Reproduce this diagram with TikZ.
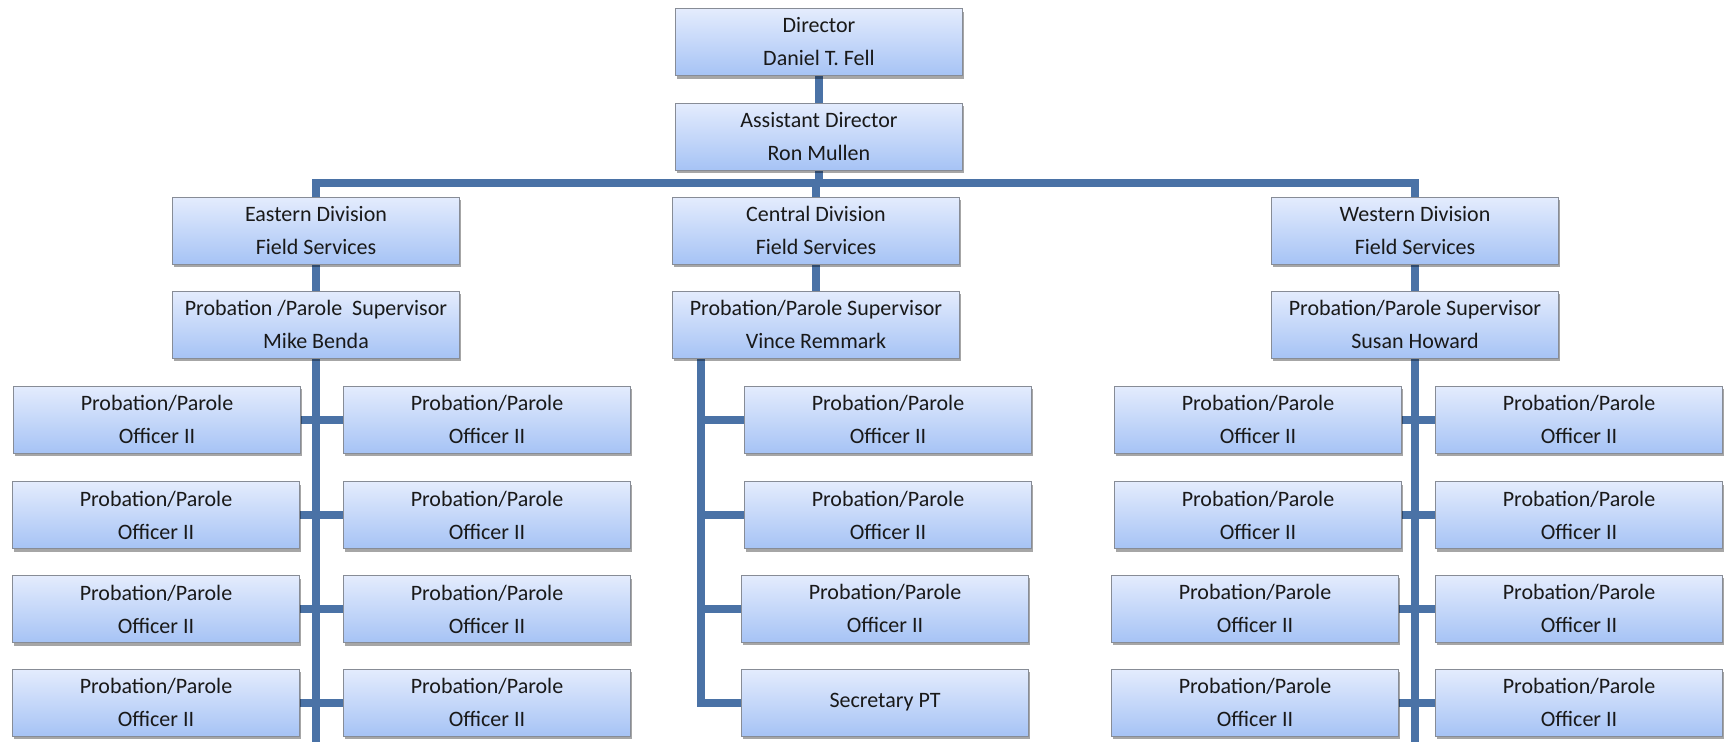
\documentclass[tikz,border=0pt]{standalone}
\usepackage{fontspec}
\setmainfont{Carlito}
\usetikzlibrary{shadows,backgrounds}
\definecolor{linec}{RGB}{74,114,166}
\definecolor{boxtop}{RGB}{228,236,253}
\definecolor{boxbot}{RGB}{166,195,245}
\definecolor{boxedge}{RGB}{135,140,150}
\tikzset{
  orgbox/.style={rectangle, draw=boxedge, line width=1pt, top color=boxtop, bottom color=boxbot,
    minimum width=287pt, minimum height=67pt, align=center, inner sep=0pt,
    font=\fontsize{22}{33}\selectfont, text=black!90,
    drop shadow={shadow xshift=1.5pt, shadow yshift=-3pt, opacity=0.35, fill=black}},
  conn/.style={draw=linec, line width=8pt}
}
\begin{document}
\begin{tikzpicture}[x=1pt,y=-1pt]
\useasboundingbox (0,0) rectangle (1724,742);
% top
\node[orgbox] (dir) at (819,42) {Director\\Daniel T. Fell};
\node[orgbox] (asst) at (819,136.5) {Assistant Director\\Ron Mullen};
% divisions
\node[orgbox] (ediv) at (316,230.5) {Eastern Division\\Field Services};
\node[orgbox] (cdiv) at (816,230.5) {Central Division\\Field Services};
\node[orgbox] (wdiv) at (1415,230.5) {Western Division\\Field Services};
% supervisors
\node[orgbox] (esup) at (316,324.5) {Probation /Parole\ \ Supervisor\\Mike Benda};
\node[orgbox] (csup) at (816,324.5) {Probation/Parole Supervisor\\Vince Remmark};
\node[orgbox] (wsup) at (1415,324.5) {Probation/Parole Supervisor\\Susan Howard};
% eastern officers
\node[orgbox] (e1L) at (157,419.5) {Probation/Parole\\Officer II};
\node[orgbox] (e1R) at (487,419.5) {Probation/Parole\\Officer II};
\node[orgbox] (e2L) at (156,515) {Probation/Parole\\Officer II};
\node[orgbox] (e2R) at (487,515) {Probation/Parole\\Officer II};
\node[orgbox] (e3L) at (156,609) {Probation/Parole\\Officer II};
\node[orgbox] (e3R) at (487,609) {Probation/Parole\\Officer II};
\node[orgbox] (e4L) at (156,702.5) {Probation/Parole\\Officer II};
\node[orgbox] (e4R) at (487,702.5) {Probation/Parole\\Officer II};
% central officers
\node[orgbox] (c1) at (888,419.5) {Probation/Parole\\Officer II};
\node[orgbox] (c2) at (888,515) {Probation/Parole\\Officer II};
\node[orgbox] (c3) at (885,608.5) {Probation/Parole\\Officer II};
\node[orgbox] (sec) at (885,702.5) {Secretary PT};
% western officers
\node[orgbox] (w1L) at (1258,419.5) {Probation/Parole\\Officer II};
\node[orgbox] (w1R) at (1579,419.5) {Probation/Parole\\Officer II};
\node[orgbox] (w2L) at (1258,515) {Probation/Parole\\Officer II};
\node[orgbox] (w2R) at (1579,515) {Probation/Parole\\Officer II};
\node[orgbox] (w3L) at (1255,608.5) {Probation/Parole\\Officer II};
\node[orgbox] (w3R) at (1579,608.5) {Probation/Parole\\Officer II};
\node[orgbox] (w4L) at (1255,702.5) {Probation/Parole\\Officer II};
\node[orgbox] (w4R) at (1579,702.5) {Probation/Parole\\Officer II};
\coordinate (bus) at (0,183);
\coordinate (bottom) at (0,742);
\coordinate (ct) at (701,358);
\begin{pgfonlayer}{background}
\draw[conn] (dir.south) -- (asst.north);
\draw[conn] (asst.south) -- (asst.south |- bus);
\draw[conn] (ediv.north) |- (wdiv.north |- bus) -- (wdiv.north);
\draw[conn] (cdiv.north) -- (cdiv.north |- bus);
\draw[conn] (ediv.south) -- (esup.north);
\draw[conn] (cdiv.south) -- (csup.north);
\draw[conn] (wdiv.south) -- (wsup.north);
% eastern tree
\draw[conn] (esup.south) -- (esup.south |- bottom);
\draw[conn] (e1L.east) -- (e1R.west);
\draw[conn] (e2L.east) -- (e2R.west);
\draw[conn] (e3L.east) -- (e3R.west);
\draw[conn] (e4L.east) -- (e4R.west);
% central tree
\draw[conn] (ct) |- (sec.west);
\draw[conn] (ct |- c1.west) -- (c1.west);
\draw[conn] (ct |- c2.west) -- (c2.west);
\draw[conn] (ct |- c3.west) -- (c3.west);
% western tree
\draw[conn] (wsup.south) -- (wsup.south |- bottom);
\draw[conn] (w1L.east) -- (w1R.west);
\draw[conn] (w2L.east) -- (w2R.west);
\draw[conn] (w3L.east) -- (w3R.west);
\draw[conn] (w4L.east) -- (w4R.west);
\end{pgfonlayer}
\end{tikzpicture}
\end{document}
